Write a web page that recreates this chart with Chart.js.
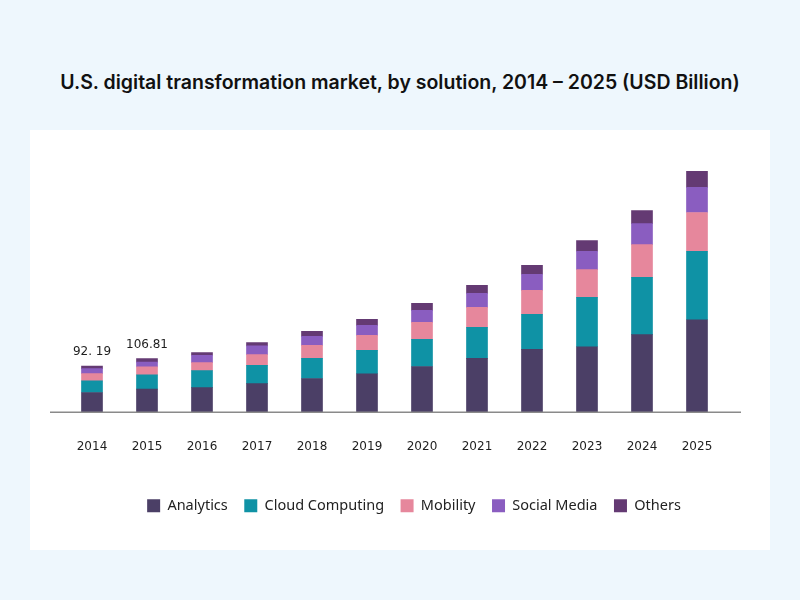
<!DOCTYPE html>
<html>
<head>
<meta charset="utf-8">
<script src="https://cdn.jsdelivr.net/npm/chart.js@4.4.1/dist/chart.umd.min.js"></script>
<style>
    html, body { margin: 0; padding: 0; }
    body { width: 800px; height: 600px; background: #eef7fd; position: relative; overflow: hidden; }
    #panel { position: absolute; left: 30px; top: 130px; width: 740px; height: 420px; background: #ffffff; }
    #title { position: absolute; left: 0; top: 70px; width: 800px; text-align: center;
             font: 600 19.5px Inter, sans-serif; line-height: 24px; color: #111111; }
    #wrap { position: absolute; left: 0; top: 0; width: 800px; height: 600px; }
</style>
</head>
<body>
<div id="panel"></div>
<div id="title">U.S. digital transformation market, by solution, 2014 – 2025 (USD Billion)</div>
<div id="wrap"><canvas id="marketChart" width="800" height="600"></canvas></div>
<script>
const years = ['2014', '2015', '2016', '2017', '2018', '2019', '2020', '2021', '2022', '2023', '2024', '2025'];

const analytics = [39.3, 46.0, 49.0, 57.0, 67.3, 76.7, 91.3, 107.3, 125.3, 130.6, 155.0, 184.6];
const cloudComputing = [23.2, 28.4, 34.0, 36.6, 40.0, 46.7, 54.0, 62.0, 70.0, 98.6, 114.0, 136.6];
const mobility = [14.5, 16.2, 16.0, 21.4, 26.0, 30.0, 34.0, 40.0, 48.0, 55.4, 65.4, 77.4];
const socialMedia = [9.9, 9.5, 14.6, 17.4, 18.0, 20.0, 24.0, 28.0, 32.0, 36.6, 42.0, 50.0];
const others = [5.3, 6.7, 5.4, 6.6, 10.0, 12.0, 14.0, 16.0, 18.0, 21.4, 26.0, 32.0];

// only the first two bars carry a total in the picture
const totalLabels = ['92. 19', '106.81', '', '', '', '', '', '', '', '', '', ''];

const colors = ['#4b3f66', '#0f92a5', '#e6879c', '#8a5dc0', '#643a73'];

// grey base line, a little wider than the bars area
const baseLine = {
    id: 'baseLine',
    afterDatasetsDraw(chart) {
        const ctx = chart.ctx;
        const y = chart.scales.y.getPixelForValue(0);
        ctx.save();
        ctx.strokeStyle = '#8a8a8a';
        ctx.lineWidth = 1.6;
        ctx.beginPath();
        ctx.moveTo(50, y);
        ctx.lineTo(741, y);
        ctx.stroke();
        ctx.restore();
    }
};

const totalText = {
    id: 'totalText',
    afterDatasetsDraw(chart) {
        const ctx = chart.ctx;
        const meta = chart.getDatasetMeta(chart.data.datasets.length - 1);
        ctx.save();
        ctx.font = '12px "DejaVu Sans", sans-serif';
        ctx.fillStyle = '#1e1e1e';
        ctx.textAlign = 'center';
        ctx.textBaseline = 'middle';
        meta.data.forEach((bar, i) => {
            if (totalLabels[i]) {
                ctx.fillText(totalLabels[i], bar.x, bar.y - 14);
            }
        });
        ctx.restore();
    }
};

const ctx = document.getElementById('marketChart').getContext('2d');

new Chart(ctx, {
    type: 'bar',
    data: {
        labels: years,
        datasets: [
            { label: 'Analytics', data: analytics, backgroundColor: colors[0] },
            { label: 'Cloud Computing', data: cloudComputing, backgroundColor: colors[1] },
            { label: 'Mobility', data: mobility, backgroundColor: colors[2] },
            { label: 'Social Media', data: socialMedia, backgroundColor: colors[3] },
            { label: 'Others', data: others, backgroundColor: colors[4] }
        ]
    },
    options: {
        responsive: false,
        animation: false,
        devicePixelRatio: 1,
        layout: {
            padding: { left: 64.5, right: 36.5, top: 161.7, bottom: 77 }
        },
        datasets: {
            bar: { barThickness: 21, borderWidth: 0 }
        },
        scales: {
            x: {
                stacked: true,
                grid: { display: false },
                border: { display: false },
                ticks: {
                    padding: 19,
                    color: '#1e1e1e',
                    font: { family: '"DejaVu Sans", sans-serif', size: 12 }
                },
                afterFit(axis) { axis.height = 69.8; }
            },
            y: {
                stacked: true,
                position: 'right',
                min: 0,
                max: 500,
                grid: { display: false },
                border: { display: false },
                ticks: { display: false },
                afterFit(axis) { axis.width = 39; }
            }
        },
        plugins: {
            legend: {
                position: 'bottom',
                labels: {
                    boxWidth: 13,
                    boxHeight: 13,
                    padding: 16.5,
                    color: '#222222',
                    font: { family: '"Noto Sans", sans-serif', size: 14.5 }
                }
            },
            title: { display: false },
            tooltip: { enabled: false }
        }
    },
    plugins: [baseLine, totalText]
});
</script>
</body>
</html>
